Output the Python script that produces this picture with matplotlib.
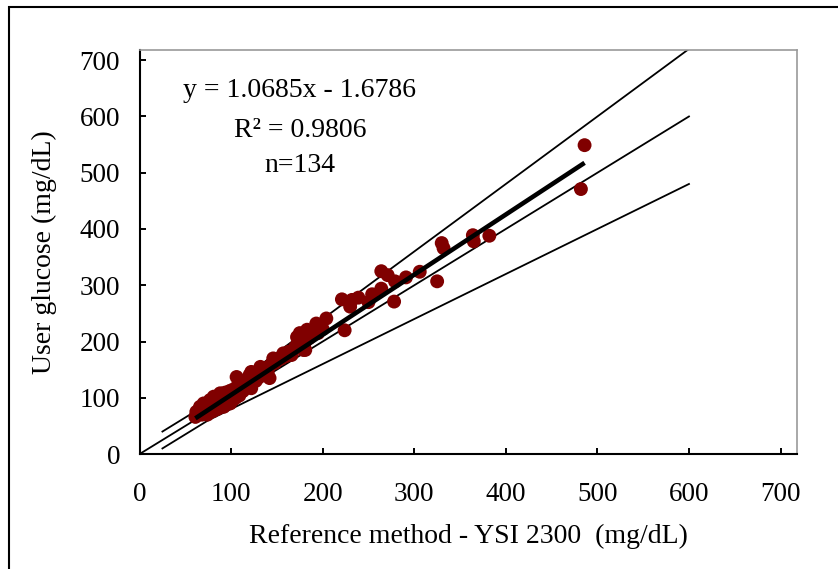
import numpy as np
import matplotlib
matplotlib.use('Agg')
from matplotlib import pyplot as plt
from matplotlib.patches import Rectangle

# 参考方法 (YSI 2300) 和用户血糖数据, mg/dL
ref_x = [486, 482, 382, 364, 365, 330, 332, 325, 306, 291, 278, 264, 271, 279, 264,
         254, 250, 239, 230, 232, 221, 224, 204, 197, 193, 190, 183, 181, 175, 172,
         173, 179, 157, 153, 146, 142, 132, 128, 122, 121, 122, 106, 110, 113, 88,
         81, 77, 84, 92, 70, 66, 62, 61, 99, 102,
         65, 67, 68, 70, 71, 72, 73, 74, 75, 76, 77, 78, 79, 80, 80, 81, 82, 83, 84,
         85, 85, 86, 87, 88, 89, 90, 90, 91, 92, 93, 94, 95, 96, 97, 98, 99, 100, 101,
         102, 103, 104, 105, 106, 107, 108, 109, 110, 112, 113, 115, 116, 118, 119,
         120, 122, 124, 125, 127, 129, 130, 133, 135, 137, 140, 143, 148, 150, 155,
         160, 163, 166, 170, 174, 177, 180, 185, 188, 195, 200]
user_y = [549, 471, 388, 389, 378, 375, 366, 307, 324, 314, 271, 325, 318, 307, 294,
          284, 270, 278, 262, 274, 275, 220, 241, 227, 232, 220, 221, 185, 215, 208,
          197, 185, 179, 170, 170, 135, 155, 146, 146, 131, 117, 137, 126, 120, 108,
          102, 96, 90, 84, 90, 84, 75, 66, 90, 102,
          72, 80, 70, 82, 74, 88, 78, 70, 84, 90, 79, 86, 95, 76, 88, 97, 82, 101, 86,
          80, 96, 103, 88, 99, 84, 107, 92, 101, 88, 109, 96, 103, 92, 111, 102, 96, 113, 104,
          96, 115, 108, 100, 117, 121, 110, 104, 119, 125, 112, 129, 120, 133, 124,
          140, 128, 136, 142, 130, 144, 136, 150, 140, 152, 146, 158, 162, 166, 170,
          174, 182, 176, 190, 194, 202, 196, 206, 212, 215, 222]

# 回归系数
slope = 1.0685
intercept = -1.6786

# 参考线: y=x 以及 ±15 mg/dL (<75) / ±20% (>=75)
line_x = [0, 600]
line_y = [0, 600]
band_x = [25, 75, 600]
band_hi = [40, 90, 720]
band_lo = [10, 60, 480]

plt.rcParams['font.family'] = ['Liberation Serif', 'DejaVu Serif']

fig = plt.figure(figsize=(8.38, 5.69), dpi=100)
ax = fig.add_axes([0.1665, 0.202, 0.7846, 0.710])

ax.plot(band_x, band_hi, color='black', lw=1.3, zorder=2)
ax.plot(band_x, band_lo, color='black', lw=1.3, zorder=2)
ax.plot(line_x, line_y, color='black', lw=1.3, zorder=2)

ax.scatter(ref_x, user_y, s=100, color='#800000', edgecolors='none', zorder=3)

# 回归线
fit_x = np.array([min(ref_x), max(ref_x)])
ax.plot(fit_x, slope * fit_x + intercept, color='black', lw=3.3, zorder=4, solid_capstyle='butt')

ax.text(175, 646, 'y = 1.0685x - 1.6786', ha='center', va='center', fontsize=20)
ax.text(175, 575, 'R² = 0.9806', ha='center', va='center', fontsize=20)
ax.text(175, 513, 'n=134', ha='center', va='center', fontsize=20)

ax.set_xlim(0, 718)
ax.set_ylim(0, 718)
ax.set_xticks(range(0, 701, 100))
ax.set_yticks(range(0, 701, 100))
ax.tick_params(axis='both', direction='in', length=4.3, width=1.4, labelsize=19.5)
ax.tick_params(axis='x', pad=20)
ax.tick_params(axis='y', pad=14)

for side in ['left', 'bottom']:
    ax.spines[side].set_color('black')
    ax.spines[side].set_linewidth(1.5)
for side in ['top', 'right']:
    ax.spines[side].set_color('#999999')
    ax.spines[side].set_linewidth(1.2)

ax.set_xlabel('Reference method - YSI 2300  (mg/dL)', fontsize=20, labelpad=12)
ax.set_ylabel('User glucose (mg/dL)', fontsize=20, labelpad=16)

# 外框
fig.add_artist(Rectangle((9 / 838, -0.05), 1.2, 562 / 569 + 0.05, transform=fig.transFigure,
                         fill=False, edgecolor='black', lw=1.5))

fig.savefig('out.png', dpi=100)
